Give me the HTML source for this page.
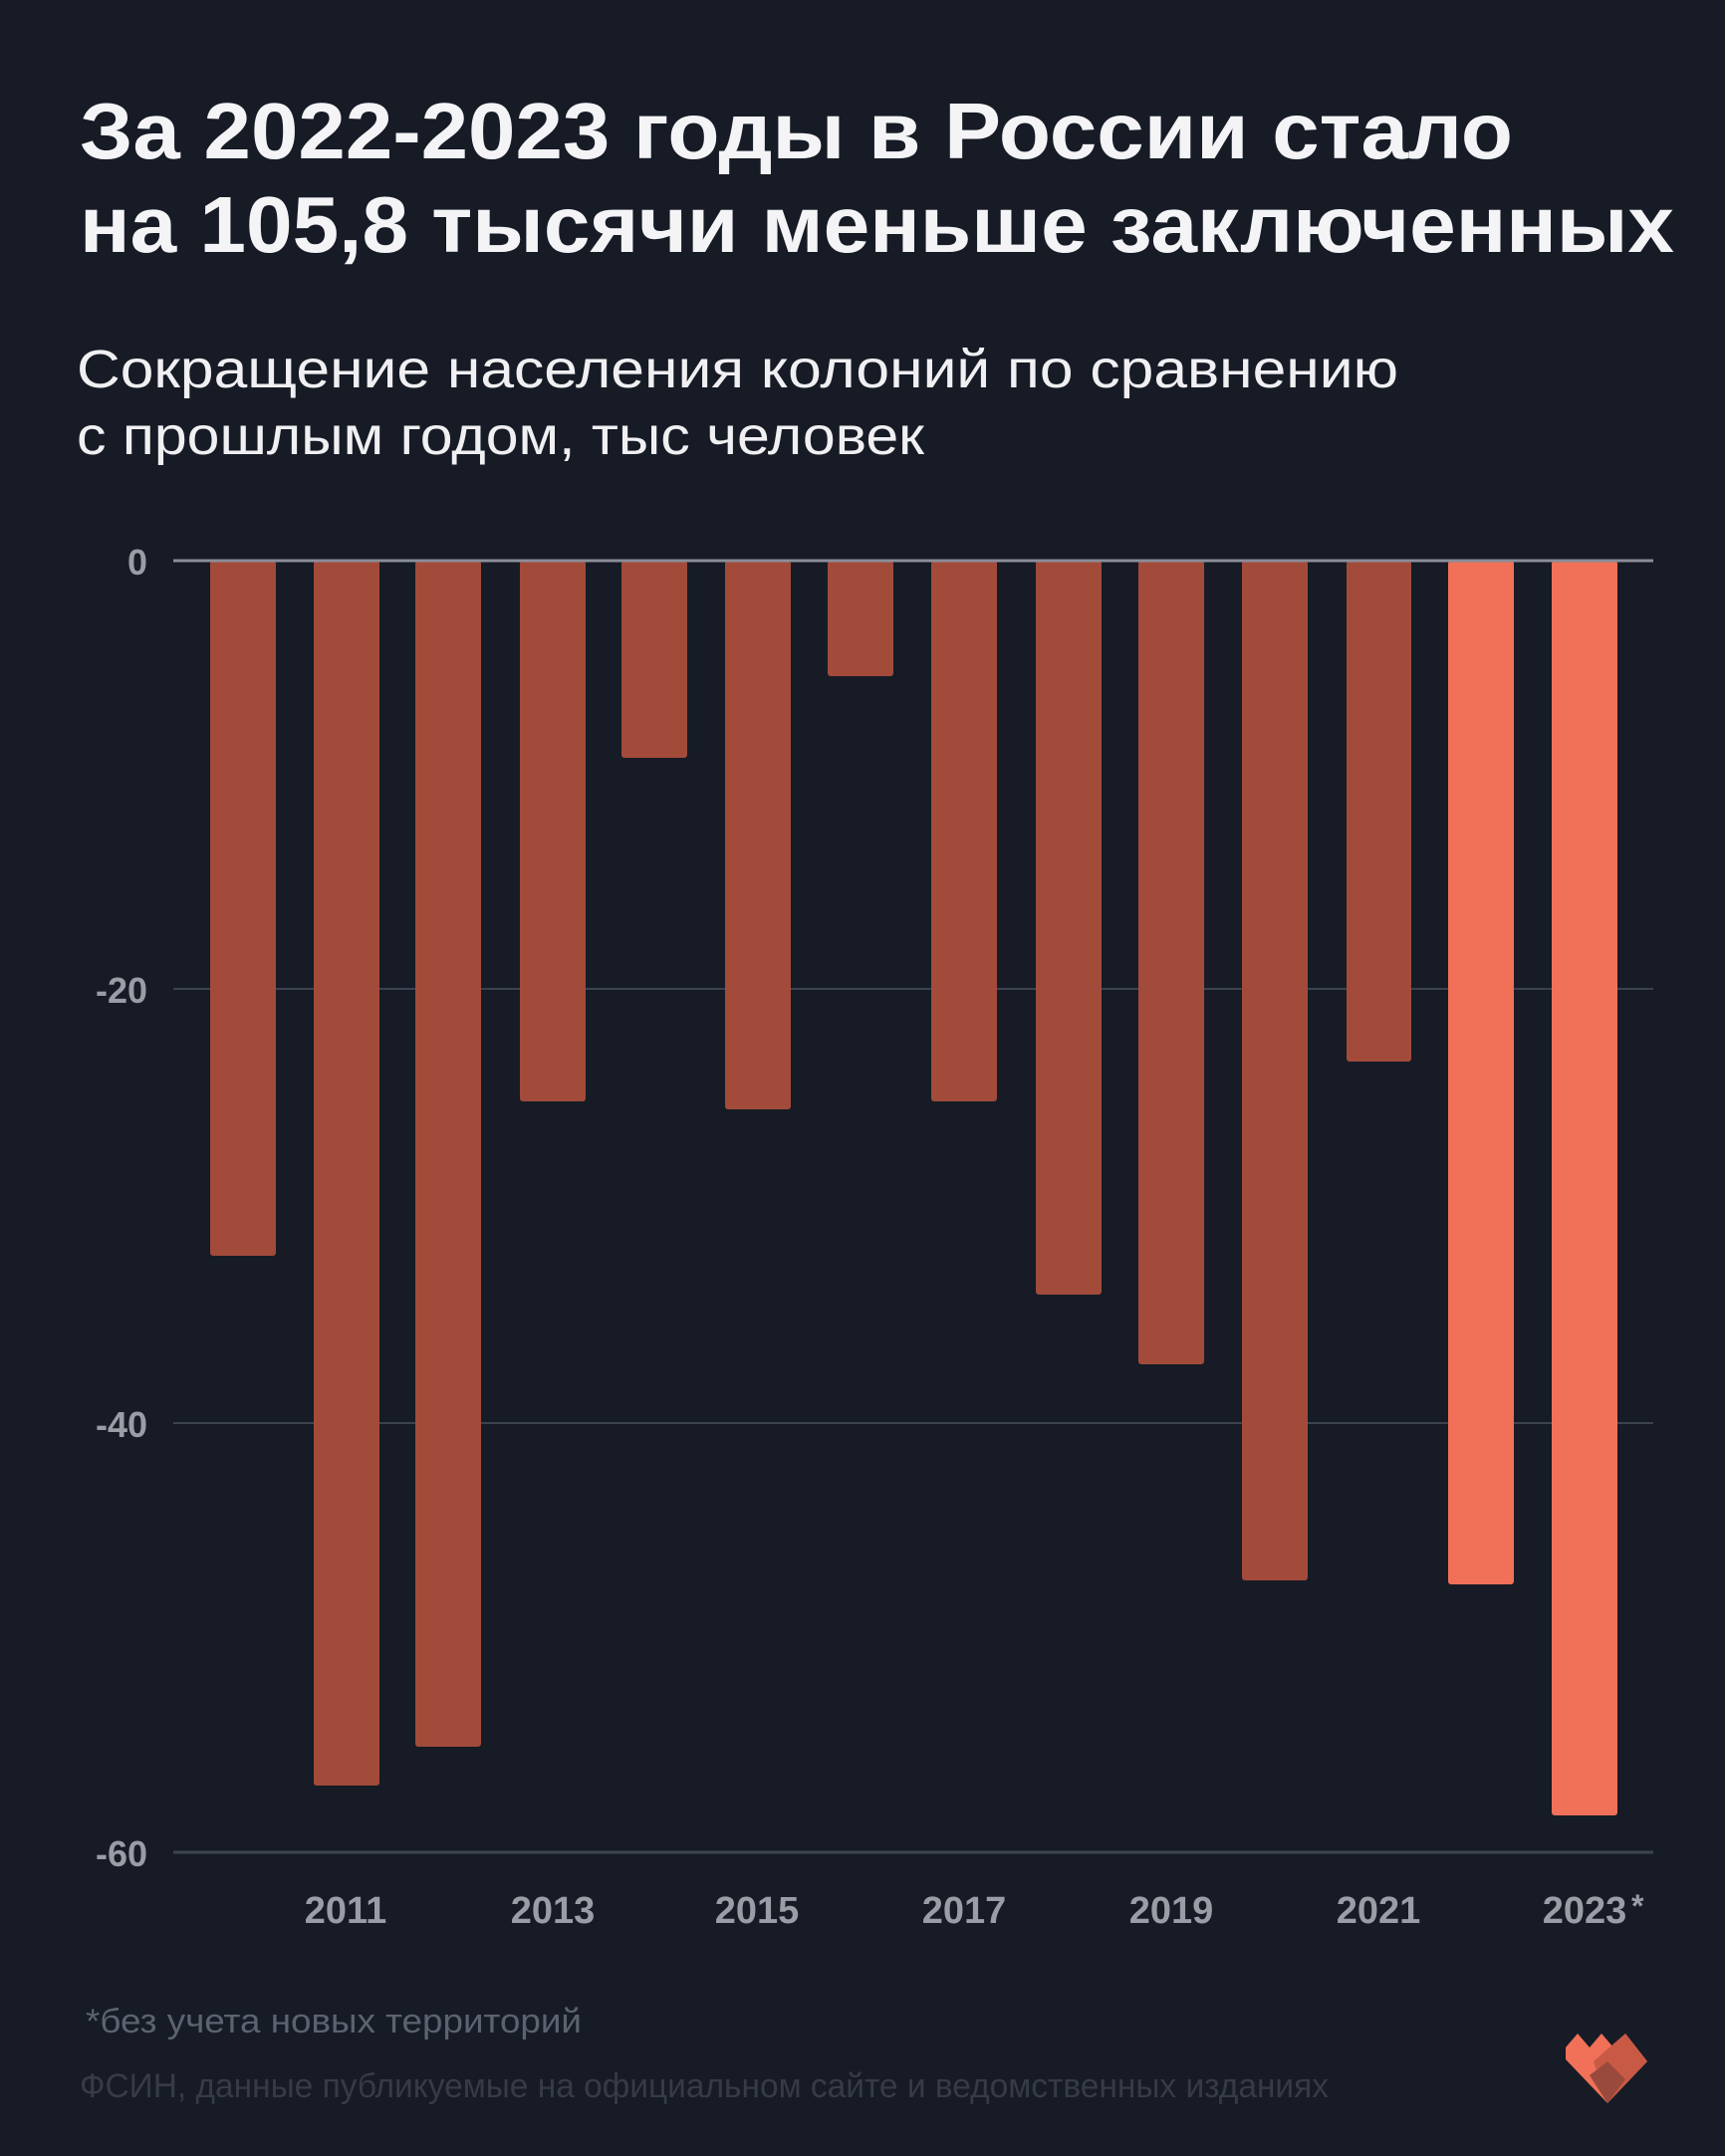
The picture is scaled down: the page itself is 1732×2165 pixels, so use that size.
<!DOCTYPE html>
<html><head><meta charset="utf-8"><style>
html,body{margin:0;padding:0;background:#161b26;}
svg{display:block}
text{font-family:"Liberation Sans","DejaVu Sans",sans-serif;}
</style></head><body>
<svg width="1732" height="2165" viewBox="0 0 1732 2165" xmlns="http://www.w3.org/2000/svg">
<rect width="1732" height="2165" fill="#161b26"/>
<text x="80" y="159" font-size="80" font-weight="bold" fill="#f4f4f6" textLength="1439" lengthAdjust="spacingAndGlyphs">За 2022-2023 годы в России стало</text>
<text x="80" y="253" font-size="80" font-weight="bold" fill="#f4f4f6" textLength="1601" lengthAdjust="spacingAndGlyphs">на 105,8 тысячи меньше заключенных</text>
<text x="77" y="389" font-size="54" fill="#f0f0f2" textLength="1327" lengthAdjust="spacingAndGlyphs">Сокращение населения колоний по сравнению</text>
<text x="77" y="456" font-size="54" fill="#f0f0f2" textLength="851" lengthAdjust="spacingAndGlyphs">с прошлым годом, тыс человек</text>
<g stroke="#3d4250" stroke-width="2">
<line x1="174" y1="993" x2="1660" y2="993"/>
<line x1="174" y1="1429" x2="1660" y2="1429"/>
</g>
<line x1="174" y1="1860" x2="1660" y2="1860" stroke="#3f4452" stroke-width="3"/>
<g font-size="36" fill="#9a9ca6" text-anchor="end" font-weight="bold">
<text x="148" y="577">0</text>
<text x="148" y="1007">-20</text>
<text x="148" y="1443">-40</text>
<text x="148" y="1874">-60</text>
</g>
<g fill="#a24b3b">
<rect x="211" y="563" width="66" height="698" rx="3"/>
<rect x="315" y="563" width="66" height="1230" rx="3"/>
<rect x="417" y="563" width="66" height="1191" rx="3"/>
<rect x="522" y="563" width="66" height="543" rx="3"/>
<rect x="624" y="563" width="66" height="198" rx="3"/>
<rect x="728" y="563" width="66" height="551" rx="3"/>
<rect x="831" y="563" width="66" height="116" rx="3"/>
<rect x="935" y="563" width="66" height="543" rx="3"/>
<rect x="1040" y="563" width="66" height="737" rx="3"/>
<rect x="1143" y="563" width="66" height="807" rx="3"/>
<rect x="1247" y="563" width="66" height="1024" rx="3"/>
<rect x="1352" y="563" width="65" height="503" rx="3"/>
</g>
<g fill="#f07058">
<rect x="1454" y="563" width="66" height="1028" rx="3"/>
<rect x="1558" y="563" width="66" height="1260" rx="3"/>
</g>
<line x1="174" y1="563" x2="1660" y2="563" stroke="#8a8d98" stroke-width="3"/>
<g font-size="38" fill="#9a9ca6" font-weight="bold" text-anchor="middle">
<text x="347" y="1931">2011</text>
<text x="555" y="1931">2013</text>
<text x="760" y="1931">2015</text>
<text x="968" y="1931">2017</text>
<text x="1176" y="1931">2019</text>
<text x="1384" y="1931">2021</text>
<text x="1591" y="1931">2023</text>
</g>
<text x="1638" y="1925" font-size="32" fill="#9a9ca6" font-weight="bold">*</text>
<text x="86" y="2041" font-size="34" fill="#5d6270" textLength="498" lengthAdjust="spacingAndGlyphs">*без учета новых территорий</text>
<text x="80" y="2106" font-size="34" fill="#363b47" textLength="1254" lengthAdjust="spacingAndGlyphs">ФСИН, данные публикуемые на официальном сайте и ведомственных изданиях</text>
<g transform="translate(1572,2042)">
<polygon points="0,14 12,0 24,14 36,0 48,14 60,0 82,28 42,70 0,26" fill="#f07058"/>
<polygon points="28,28 60,0 82,28 42,70" fill="#c85a45"/>
<polygon points="24,42 42,28 60,46 42,70" fill="#9a4a3c"/>
</g>
</svg>
</body></html>
